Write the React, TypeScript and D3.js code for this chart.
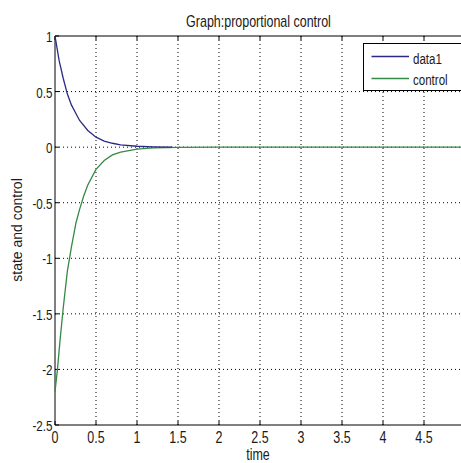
import React from "react";
import * as d3 from "d3";

const xTicks = [0, 0.5, 1, 1.5, 2, 2.5, 3, 3.5, 4, 4.5];
const yTicks = [1, 0.5, 0, -0.5, -1, -1.5, -2, -2.5];

const stateT = [0, 0.05, 0.1, 0.15, 0.2, 0.25, 0.3, 0.4, 0.5, 0.6, 0.7, 0.8, 1.0, 1.2, 1.43];
const stateV = [1, 0.78, 0.62, 0.48, 0.38, 0.31, 0.24, 0.15, 0.09, 0.055, 0.035, 0.02, 0.008, 0.003, 0.0];

const controlT = [0, 0.03, 0.06, 0.1, 0.15, 0.2, 0.256, 0.3, 0.35, 0.4, 0.5, 0.6, 0.7, 0.8, 1.0, 1.2, 1.5, 2, 5];
const controlV = [-2.2, -2.0, -1.75, -1.45, -1.12, -0.9, -0.68, -0.56, -0.44, -0.34, -0.2, -0.12, -0.07, -0.045, -0.017, -0.006, -0.002, 0, 0];

const FONT = "'Liberation Sans', Arial, sans-serif";

function T({ x, y, sx = 0.78, size = 16, anchor = "start", rotate = 0, children }: any) {
  return (
    <text
      transform={`translate(${x},${y}) rotate(${rotate}) scale(${sx},1)`}
      textAnchor={anchor}
      fontSize={size}
      fill="#1a1a1a"
    >
      {children}
    </text>
  );
}

export default function App() {
  const W = 461, H = 463;
  const left = 55, top = 36, bottom = 425;
  const x = d3.scaleLinear().domain([0, 5]).range([left, left + 410]);
  const y = d3.scaleLinear().domain([-2.5, 1]).range([bottom, top]);
  const line = d3.line<[number, number]>().x(d => x(d[0])).y(d => y(d[1]));
  const stateData = stateT.map((t, i) => [t, stateV[i]] as [number, number]);
  const controlData = controlT.map((t, i) => [t, controlV[i]] as [number, number]);
  const right = x(5);
  const blue = "#2a2a86";
  const green = "#358a45";
  return (
    <svg width={W} height={H} style={{ position: "absolute", left: 0, top: 0, background: "#fff" }} fontFamily={FONT}>
      <rect x={0} y={0} width={W} height={H} fill="#fff" />
      {/* grid */}
      {xTicks.filter(t => t > 0).map(t => (
        <line key={"gx" + t} x1={x(t)} x2={x(t)} y1={top} y2={bottom} stroke="#000" strokeWidth={1} strokeDasharray="1,3" />
      ))}
      {yTicks.filter(t => t > -2.5 && t < 1).map(t => (
        <line key={"gy" + t} x1={left} x2={right} y1={y(t)} y2={y(t)} stroke="#000" strokeWidth={1} strokeDasharray="1,3" />
      ))}
      {/* ticks */}
      {xTicks.map(t => (
        <g key={"tx" + t}>
          <line x1={x(t)} x2={x(t)} y1={bottom} y2={bottom - 4} stroke="#000" />
          <line x1={x(t)} x2={x(t)} y1={top} y2={top + 4} stroke="#000" />
          <T x={x(t)} y={443} anchor="middle" size={16}>{t}</T>
        </g>
      ))}
      {yTicks.map(t => (
        <g key={"ty" + t}>
          <line x1={left} x2={left + 4} y1={y(t)} y2={y(t)} stroke="#000" />
          <T x={left - 2.5} y={y(t) + 6} anchor="end" size={14} sx={0.83}>{t}</T>
        </g>
      ))}
      {/* axes box */}
      <line x1={left} x2={right} y1={top} y2={top} stroke="#000" />
      <line x1={left} x2={right} y1={bottom} y2={bottom} stroke="#000" />
      <line x1={left} x2={left} y1={top} y2={bottom} stroke="#000" />
      {/* data */}
      <path d={line(controlData) || ""} fill="none" stroke={green} strokeWidth={1.3} />
      <path d={line(stateData) || ""} fill="none" stroke={blue} strokeWidth={1.3} />
      {/* legend */}
      <rect x={363.5} y={43.5} width={100} height={47} fill="#fff" stroke="#000" />
      <line x1={371.5} x2={409} y1={56.5} y2={56.5} stroke={blue} strokeWidth={1.3} />
      <T x={413} y={64} size={15} sx={0.77}>data1</T>
      <line x1={371.5} x2={409} y1={78.5} y2={78.5} stroke={green} strokeWidth={1.3} />
      <T x={413} y={85} size={15} sx={0.77}>control</T>
      {/* labels */}
      <T x={258.5} y={27} anchor="middle" size={16}>Graph:proportional control</T>
      <T x={258} y={460} anchor="middle" size={16}>time</T>
      <T x={21.5} y={230} anchor="middle" size={14} sx={1} rotate={-90}>state and control</T>
    </svg>
  );
}
